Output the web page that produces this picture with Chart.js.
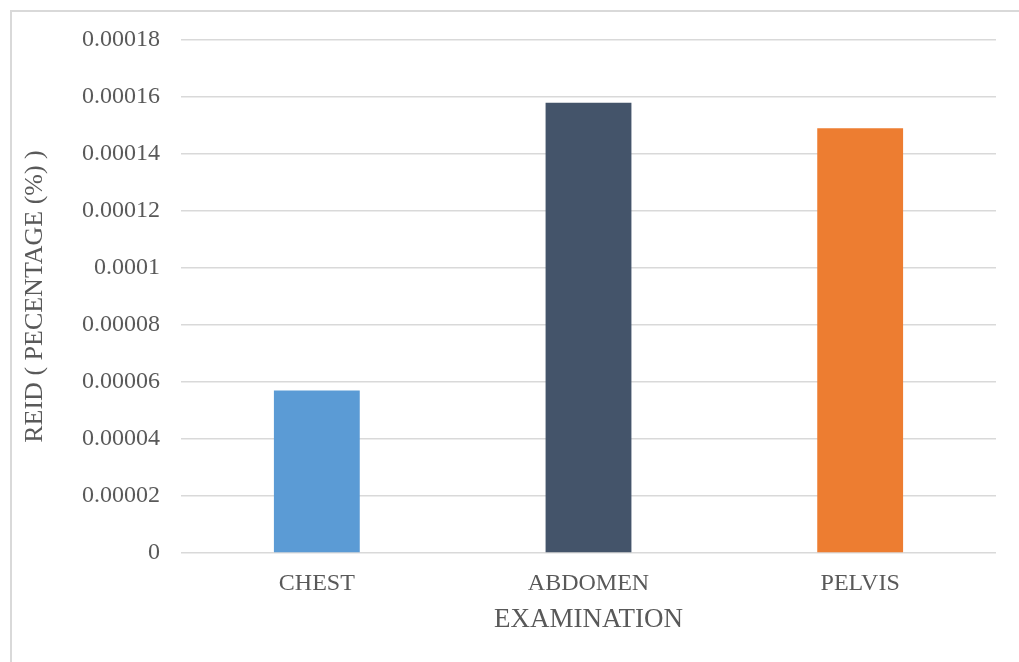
<!DOCTYPE html>
<html>
<head>
<meta charset="utf-8">
<script src="https://cdn.jsdelivr.net/npm/chart.js@4/dist/chart.umd.min.js"></script>
<style>
  html, body { margin: 0; padding: 0; background: #fff; overflow: hidden; }
  #wrap { position: relative; width: 1019px; height: 662px; }
  #frame {
    position: absolute; left: 10px; top: 10px; width: 1100px; height: 700px;
    border: 2px solid #d9d9d9; box-sizing: border-box;
  }
  canvas { position: absolute; left: 0; top: 0; }
</style>
</head>
<body>
<div id="wrap">
  <div id="frame"></div>
  <canvas id="chart" width="1019" height="662"></canvas>
</div>
<script>
const examinations = ['CHEST', 'ABDOMEN', 'PELVIS'];
const reidValues = [0.000057, 0.000158, 0.000149];
const barColors = ['#5b9bd5', '#44546a', '#ed7d31'];
const yTicks = [0, 0.00002, 0.00004, 0.00006, 0.00008, 0.0001, 0.00012, 0.00014, 0.00016, 0.00018];
const yTickText = ['0', '0.00002', '0.00004', '0.00006', '0.00008', '0.0001', '0.00012', '0.00014', '0.00016', '0.00018'];

const textColor = '#595959';
const serif = "'Liberation Serif', 'Times New Roman', serif";

new Chart(document.getElementById('chart'), {
  type: 'bar',
  data: {
    labels: examinations,
    datasets: [{
      data: reidValues,
      backgroundColor: barColors,
      borderWidth: 0,
      categoryPercentage: 1,
      barPercentage: 0.316
    }]
  },
  options: {
    responsive: false,
    animation: false,
    layout: { padding: { left: 10, right: 23, top: 40, bottom: 0 } },
    plugins: { legend: { display: false }, tooltip: { enabled: false } },
    scales: {
      x: {
        grid: { display: false },
        border: { display: false },
        ticks: { color: textColor, font: { family: serif, size: 24 }, padding: 8 },
        title: {
          display: true, text: 'EXAMINATION', color: textColor,
          font: { family: serif, size: 27 }, padding: { top: 4, bottom: 26 }
        },
        afterFit: s => { s.height = 109; }
      },
      y: {
        min: 0,
        max: 0.00018,
        border: { display: false },
        grid: { color: '#d9d9d9', lineWidth: 1.5, drawTicks: false },
        afterBuildTicks: s => { s.ticks = yTicks.map(v => ({ value: v })); },
        ticks: {
          color: textColor, font: { family: serif, size: 24 }, padding: 21,
          callback: (v, i) => yTickText[i]
        },
        title: {
          display: true, text: 'REID ( PECENTAGE (%) )', color: textColor,
          font: { family: serif, size: 26 }, padding: { top: 10, bottom: 4 }
        },
        afterFit: s => { s.width = 171; }
      }
    }
  }
});
</script>
</body>
</html>
